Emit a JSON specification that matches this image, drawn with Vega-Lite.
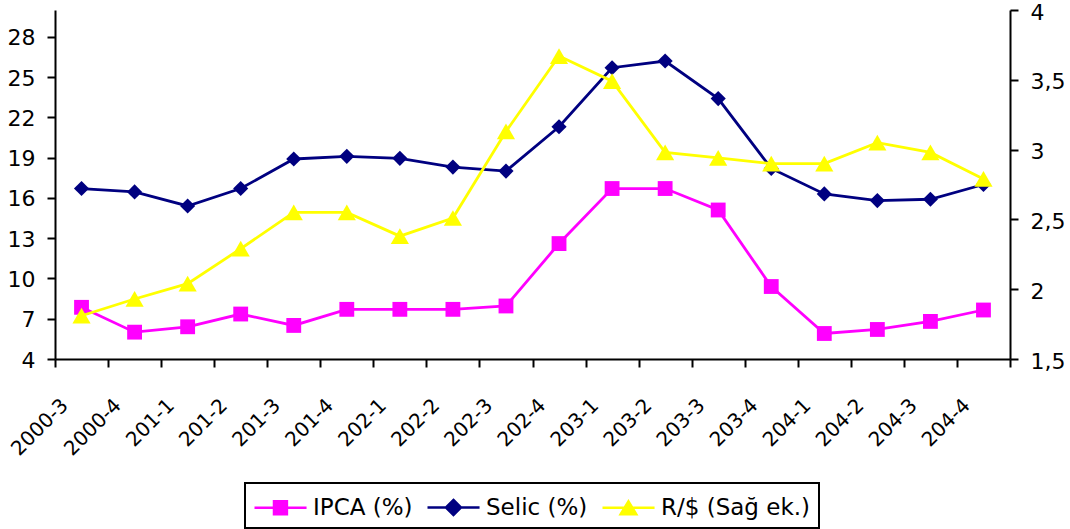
{
  "$schema": "https://vega.github.io/schema/vega-lite/v6.json",
  "width": 955,
  "height": 349,
  "autosize": "none",
  "padding": {"left": 55, "top": 10, "right": 60, "bottom": 170},
  "background": "white",
  "config": {
    "view": {"stroke": null},
    "axis": {"labelFont": "DejaVu Sans", "labelColor": "black", "domainColor": "black", "tickColor": "black", "domainWidth": 2, "tickWidth": 2, "grid": false, "title": null}
  },
  "data": {"values": [
    {"period": "2000-3", "series": "IPCA (%)", "value": 7.85},
    {"period": "2000-4", "series": "IPCA (%)", "value": 6.0},
    {"period": "201-1", "series": "IPCA (%)", "value": 6.4},
    {"period": "201-2", "series": "IPCA (%)", "value": 7.35},
    {"period": "201-3", "series": "IPCA (%)", "value": 6.5},
    {"period": "201-4", "series": "IPCA (%)", "value": 7.7},
    {"period": "202-1", "series": "IPCA (%)", "value": 7.7},
    {"period": "202-2", "series": "IPCA (%)", "value": 7.7},
    {"period": "202-3", "series": "IPCA (%)", "value": 7.95},
    {"period": "202-4", "series": "IPCA (%)", "value": 12.6},
    {"period": "203-1", "series": "IPCA (%)", "value": 16.7},
    {"period": "203-2", "series": "IPCA (%)", "value": 16.7},
    {"period": "203-3", "series": "IPCA (%)", "value": 15.1},
    {"period": "203-4", "series": "IPCA (%)", "value": 9.4},
    {"period": "204-1", "series": "IPCA (%)", "value": 5.9},
    {"period": "204-2", "series": "IPCA (%)", "value": 6.2},
    {"period": "204-3", "series": "IPCA (%)", "value": 6.8},
    {"period": "204-4", "series": "IPCA (%)", "value": 7.65},
    {"period": "2000-3", "series": "Selic (%)", "value": 16.7},
    {"period": "2000-4", "series": "Selic (%)", "value": 16.45},
    {"period": "201-1", "series": "Selic (%)", "value": 15.4},
    {"period": "201-2", "series": "Selic (%)", "value": 16.7},
    {"period": "201-3", "series": "Selic (%)", "value": 18.9},
    {"period": "201-4", "series": "Selic (%)", "value": 19.1},
    {"period": "202-1", "series": "Selic (%)", "value": 18.95},
    {"period": "202-2", "series": "Selic (%)", "value": 18.3},
    {"period": "202-3", "series": "Selic (%)", "value": 18.0},
    {"period": "202-4", "series": "Selic (%)", "value": 21.3},
    {"period": "203-1", "series": "Selic (%)", "value": 25.7},
    {"period": "203-2", "series": "Selic (%)", "value": 26.2},
    {"period": "203-3", "series": "Selic (%)", "value": 23.4},
    {"period": "203-4", "series": "Selic (%)", "value": 18.2},
    {"period": "204-1", "series": "Selic (%)", "value": 16.3},
    {"period": "204-2", "series": "Selic (%)", "value": 15.8},
    {"period": "204-3", "series": "Selic (%)", "value": 15.9},
    {"period": "204-4", "series": "Selic (%)", "value": 17.0},
    {"period": "2000-3", "series": "R/$ (Sağ ek.)", "value": 1.81},
    {"period": "2000-4", "series": "R/$ (Sağ ek.)", "value": 1.93},
    {"period": "201-1", "series": "R/$ (Sağ ek.)", "value": 2.04},
    {"period": "201-2", "series": "R/$ (Sağ ek.)", "value": 2.29},
    {"period": "201-3", "series": "R/$ (Sağ ek.)", "value": 2.55},
    {"period": "201-4", "series": "R/$ (Sağ ek.)", "value": 2.55},
    {"period": "202-1", "series": "R/$ (Sağ ek.)", "value": 2.38},
    {"period": "202-2", "series": "R/$ (Sağ ek.)", "value": 2.51},
    {"period": "202-3", "series": "R/$ (Sağ ek.)", "value": 3.13},
    {"period": "202-4", "series": "R/$ (Sağ ek.)", "value": 3.67},
    {"period": "203-1", "series": "R/$ (Sağ ek.)", "value": 3.49},
    {"period": "203-2", "series": "R/$ (Sağ ek.)", "value": 2.98},
    {"period": "203-3", "series": "R/$ (Sağ ek.)", "value": 2.94},
    {"period": "203-4", "series": "R/$ (Sağ ek.)", "value": 2.9},
    {"period": "204-1", "series": "R/$ (Sağ ek.)", "value": 2.9},
    {"period": "204-2", "series": "R/$ (Sağ ek.)", "value": 3.05},
    {"period": "204-3", "series": "R/$ (Sağ ek.)", "value": 2.98},
    {"period": "204-4", "series": "R/$ (Sağ ek.)", "value": 2.79}
  ]},
  "encoding": {
    "x": {
      "field": "period", "type": "ordinal", "sort": null,
      "scale": {"type": "band", "paddingInner": 0, "paddingOuter": 0},
      "axis": {"labelAngle": -45, "labelAlign": "right", "labelBaseline": "middle", "labelFontSize": 20, "labelPadding": 35, "labelOffset": -17, "tickSize": 8, "tickBand": "extent", "labelOverlap": false}
    }
  },
  "layer": [
    {
      "transform": [{"filter": "datum.series !== 'R/$ (Sağ ek.)'"}],
      "encoding": {
        "y": {
          "field": "value", "type": "quantitative",
          "scale": {"domain": [4, 30], "nice": false, "zero": false},
          "axis": {"orient": "left", "values": [4, 7, 10, 13, 16, 19, 22, 25, 28], "labelFontSize": 22, "tickSize": 8, "labelPadding": 12, "labelOffset": 1}
        }
      },
      "layer": [
        {
          "mark": {"type": "line", "strokeWidth": 2.8},
          "encoding": {
            "color": {
              "field": "series", "type": "nominal",
              "scale": {"domain": ["IPCA (%)", "Selic (%)", "R/$ (Sağ ek.)"], "range": ["#FF00FF", "#000080", "#FFFF00"]},
              "legend": {
                "title": null, "orient": "none", "legendX": 190, "legendY": 473, "direction": "horizontal",
                "labelFont": "DejaVu Sans", "labelFontSize": 23, "labelColor": "black", "labelLimit": 0,
                "symbolSize": 900, "symbolStrokeWidth": 2.5, "labelOffset": 27, "columnPadding": 9, "padding": 8,
                "strokeColor": "black",
                "encode": {
                  "symbols": {"update": {
                    "shape": {"signal": "datum.value === 'IPCA (%)' ? 'M-1,0H2.47M0.3,-0.43H1.16V0.43H0.3Z' : datum.value === 'Selic (%)' ? 'M-1,0H2.47M0.73,-0.5L1.23,0L0.73,0.5L0.23,0Z' : 'M-1,0H2.47M0.73,-0.43L1.25,0.43L0.21,0.43Z'"},
                    "fill": {"signal": "scale('color', datum.value)"},
                    "stroke": {"signal": "scale('color', datum.value)"},
                    "strokeWidth": {"value": 2.5},
                    "opacity": {"value": 1}
                  }},
                  "legend": {"update": {"strokeWidth": {"value": 2}, "stroke": {"value": "black"}}}
                }
              }
            }
          }
        },
        {
          "transform": [{"filter": "datum.series === 'IPCA (%)'"}],
          "mark": {"type": "point", "filled": true, "opacity": 1, "strokeWidth": 0, "shape": "square", "size": 220, "fill": "#FF00FF"}
        },
        {
          "transform": [{"filter": "datum.series === 'Selic (%)'"}],
          "mark": {"type": "point", "filled": true, "opacity": 1, "strokeWidth": 0, "shape": "diamond", "size": 230, "fill": "#000080"}
        }
      ]
    },
    {
      "transform": [{"filter": "datum.series === 'R/$ (Sağ ek.)'"}],
      "encoding": {
        "y": {
          "field": "value", "type": "quantitative",
          "scale": {"domain": [1.5, 4], "nice": false, "zero": false},
          "axis": {"orient": "right", "values": [1.5, 2, 2.5, 3, 3.5, 4], "labelFontSize": 22, "tickSize": 8, "labelPadding": 12, "labelOffset": 2, "labelExpr": "replace(format(datum.value, '.1~f'), '.', ',')"}
        }
      },
      "layer": [
        {
          "mark": {"type": "line", "strokeWidth": 2.8},
          "encoding": {
            "color": {
              "field": "series", "type": "nominal",
              "scale": {"domain": ["IPCA (%)", "Selic (%)", "R/$ (Sağ ek.)"], "range": ["#FF00FF", "#000080", "#FFFF00"]},
              "legend": {
                "title": null, "orient": "none", "legendX": 190, "legendY": 473, "direction": "horizontal",
                "labelFont": "DejaVu Sans", "labelFontSize": 23, "labelColor": "black", "labelLimit": 0,
                "symbolSize": 900, "symbolStrokeWidth": 2.5, "labelOffset": 27, "columnPadding": 9, "padding": 8,
                "strokeColor": "black",
                "encode": {
                  "symbols": {"update": {
                    "shape": {"signal": "datum.value === 'IPCA (%)' ? 'M-1,0H2.47M0.3,-0.43H1.16V0.43H0.3Z' : datum.value === 'Selic (%)' ? 'M-1,0H2.47M0.73,-0.5L1.23,0L0.73,0.5L0.23,0Z' : 'M-1,0H2.47M0.73,-0.43L1.25,0.43L0.21,0.43Z'"},
                    "fill": {"signal": "scale('color', datum.value)"},
                    "stroke": {"signal": "scale('color', datum.value)"},
                    "strokeWidth": {"value": 2.5},
                    "opacity": {"value": 1}
                  }},
                  "legend": {"update": {"strokeWidth": {"value": 2}, "stroke": {"value": "black"}}}
                }
              }
            }
          }
        },
        {
          "mark": {"type": "point", "filled": true, "opacity": 1, "strokeWidth": 0, "shape": "triangle-up", "size": 330, "fill": "#FFFF00"}
        }
      ]
    }
  ],
  "resolve": {"scale": {"y": "independent"}}
}
